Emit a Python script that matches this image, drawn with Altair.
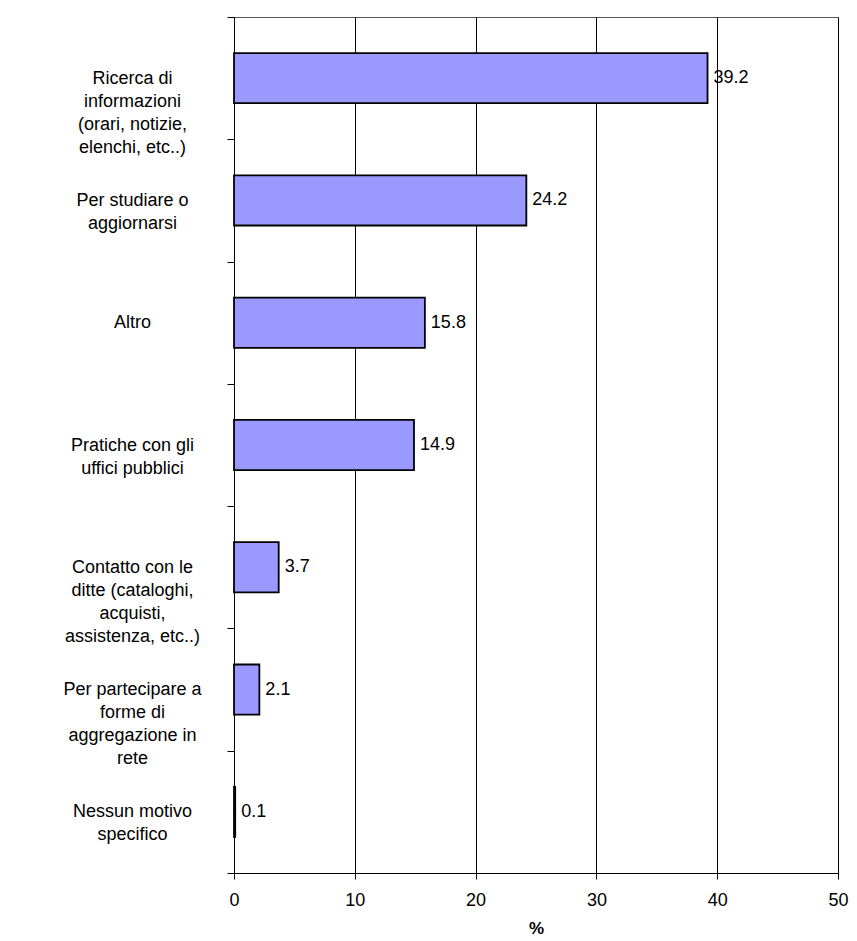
import altair as alt
import pandas as pd

categories = [
    "Ricerca di\ninformazioni\n(orari, notizie,\nelenchi, etc..)",
    "Per studiare o\naggiornarsi",
    "Altro",
    "Pratiche con gli\nuffici pubblici",
    "Contatto con le\nditte (cataloghi,\nacquisti,\nassistenza, etc..)",
    "Per partecipare a\nforme di\naggregazione in\nrete",
    "Nessun motivo\nspecifico",
]
values = [39.2, 24.2, 15.8, 14.9, 3.7, 2.1, 0.1]
x_ticks = [0, 10, 20, 30, 40, 50]

df = pd.DataFrame({"cat": categories, "val": values})

FONT = "Liberation Sans"

y_enc = alt.Y(
    "cat:N",
    sort=None,
    title=None,
    scale=alt.Scale(paddingInner=0, paddingOuter=0),
    axis=alt.Axis(
        tickBand="extent",
        tickSize=7,
        tickColor="black",
        domainColor="black",
        labelExpr="split(datum.label, '\\n')",
        labelAlign="center",
        labelBaseline="middle",
        labelPadding=95,
        labelLimit=0,
        labelFontSize=18,
        labelLineHeight=23,
        labelColor="black",
        grid=False,
    ),
)

x_enc = alt.X(
    "val:Q",
    title="%",
    scale=alt.Scale(domain=[0, 50], nice=False),
    axis=alt.Axis(
        values=x_ticks,
        format="d",
        tickSize=6,
        tickColor="black",
        domainColor="black",
        gridColor="black",
        gridOpacity=1,
        labelFlush=False,
        labelFontSize=18,
        labelPadding=12,
        labelColor="black",
        titleFontSize=17,
        titleFontWeight="bold",
        titlePadding=11,
        titleColor="black",
    ),
)

bars = alt.Chart(df).mark_bar(
    color="#9999FF",
    stroke="black",
    strokeWidth=1.8,
    height=alt.RelativeBandSize(0.41),
).encode(x=x_enc, y=y_enc)

labels = alt.Chart(df).mark_text(
    align="left", baseline="middle", dx=6, fontSize=18, color="black", font=FONT
).encode(
    x=alt.X("val:Q"),
    y=alt.Y("cat:N", sort=None),
    text=alt.Text("val:Q", format=".1f"),
)

chart = (
    alt.layer(bars, labels)
    .properties(
        width=604,
        height=856,
        autosize=alt.AutoSizeParams(type="none"),
        padding={"left": 226, "top": 9, "right": 11, "bottom": 68},
    )
    .configure(font=FONT)
    .configure_view(stroke="#555555", strokeWidth=1)
    .configure_axis(labelFont=FONT, titleFont=FONT)
)

chart.save("out.html", embed_options={"renderer": "svg", "actions": False})
